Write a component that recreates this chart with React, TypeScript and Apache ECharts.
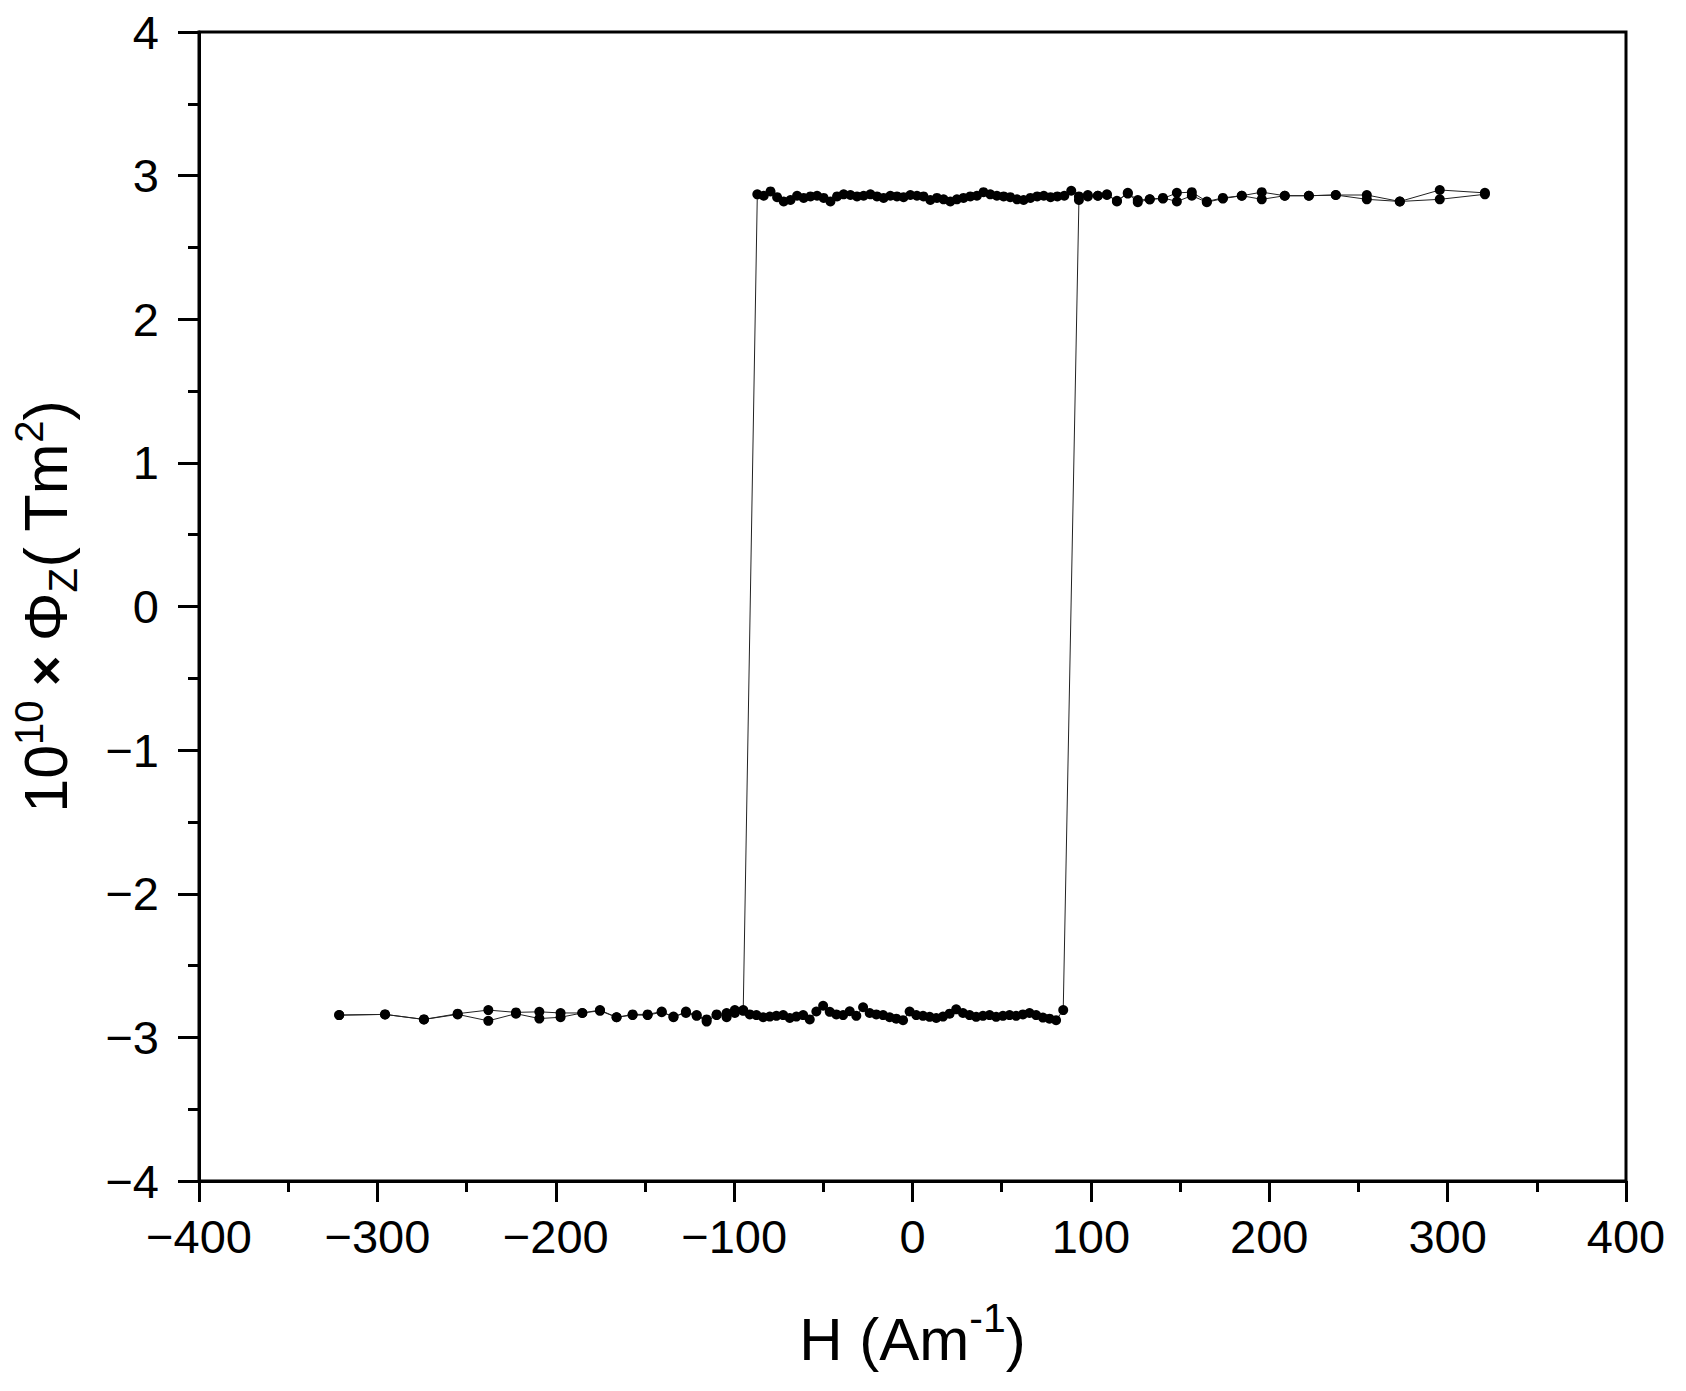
import React, { useEffect, useRef } from "react";
import * as echarts from "echarts";

// Sweep 1: decreasing H, upper branch
const topDecH = [320.9, 295.6, 273.2, 254.7, 237.3, 222.2, 208.7, 195.8, 184.6, 174.0,
  165.0, 156.6, 148.2, 140.4, 133.0, 126.3, 120.7, 114.6, 109.0, 103.9,
  98.3, 93.3, 89.0, 85.1, 81.2, 77.4, 73.6, 69.9, 66.1, 62.3,
  58.6, 54.8, 51.1, 47.3, 43.6, 39.8, 36.1, 32.4, 28.6, 24.9,
  21.2, 17.4, 13.7, 10.0, 6.2, 2.5, -1.2, -5.0, -8.7, -12.4,
  -16.2, -19.9, -23.6, -27.4, -31.1, -34.8, -38.6, -42.3, -46.0, -49.8,
  -53.5, -57.2, -61.0, -64.7, -68.4, -72.2, -75.9, -79.6, -83.4, -87.0];
const topDecY = [2.88, 2.90, 2.82, 2.865, 2.865, 2.86, 2.86, 2.885, 2.86, 2.845,
  2.82, 2.885, 2.88, 2.84, 2.835, 2.83, 2.88, 2.82, 2.87, 2.86,
  2.855, 2.855, 2.895, 2.86, 2.855, 2.85, 2.86, 2.855, 2.845, 2.83,
  2.835, 2.85, 2.855, 2.86, 2.87, 2.885, 2.86, 2.855, 2.845, 2.835,
  2.82, 2.835, 2.845, 2.83, 2.855, 2.86, 2.865, 2.85, 2.855, 2.86,
  2.845, 2.855, 2.87, 2.86, 2.855, 2.865, 2.87, 2.855, 2.82, 2.845,
  2.86, 2.855, 2.845, 2.86, 2.83, 2.82, 2.85, 2.89, 2.86, 2.87];

// Sweep 1 continued: decreasing H, lower branch
const botDecH = [-94.9, -99.6, -104.2, -109.8, -115.4, -121.0, -127.0, -134.0, -140.6, -148.5,
  -156.9, -165.9, -175.2, -185.1, -197.3, -209.2, -222.3, -237.8, -255.0, -273.9, -295.7, -321.4];
const botDecY = [-2.81, -2.81, -2.83, -2.845, -2.89, -2.845, -2.82, -2.86, -2.82, -2.84,
  -2.84, -2.86, -2.81, -2.83, -2.83, -2.822, -2.826, -2.81, -2.835, -2.875, -2.84, -2.845];

// Sweep 2: increasing H, lower branch
const botIncH = [-321.4, -295.7, -273.9, -255.0, -237.8, -222.3, -209.2, -197.3, -185.1, -175.2,
  -165.9, -156.9, -148.5, -140.6, -134.0, -127.0, -121.0, -115.4, -109.8, -104.2, -99.6, -94.9,
  -91.2, -87.5, -83.7, -80.0, -76.3, -72.5, -68.8, -65.1, -61.3, -57.6,
  -53.9, -50.1, -46.4, -42.7, -38.9, -35.2, -31.5, -27.7, -24.0, -20.3,
  -16.5, -12.8, -9.1, -5.3, -1.6, 2.1, 5.9, 9.6, 13.3, 17.1,
  20.8, 24.5, 28.3, 32.0, 35.7, 39.5, 43.2, 46.9, 50.7, 54.4,
  58.1, 61.9, 65.6, 69.3, 73.1, 76.8, 80.5, 84.5];
const botIncY = [-2.845, -2.84, -2.875, -2.84, -2.885, -2.835, -2.869, -2.86, -2.83, -2.815,
  -2.86, -2.845, -2.845, -2.825, -2.855, -2.83, -2.85, -2.875, -2.84, -2.86, -2.83, -2.815,
  -2.84, -2.845, -2.86, -2.855, -2.85, -2.845, -2.865, -2.855, -2.845, -2.875,
  -2.82, -2.78, -2.822, -2.84, -2.845, -2.818, -2.85, -2.79, -2.83, -2.84,
  -2.845, -2.86, -2.87, -2.88, -2.82, -2.845, -2.85, -2.857, -2.865, -2.855,
  -2.835, -2.805, -2.83, -2.845, -2.857, -2.85, -2.845, -2.857, -2.85, -2.845,
  -2.85, -2.84, -2.83, -2.845, -2.862, -2.87, -2.88, -2.81];

// Sweep 2 continued: increasing H, upper branch
const topIncH = [93.3, 98.3, 103.9, 109.0, 114.6, 120.7, 126.3, 133.0, 140.4, 148.2,
  156.6, 165.0, 174.0, 184.6, 195.8, 208.7, 222.2, 237.3, 254.7, 273.2, 295.6, 320.9];
const topIncY = [2.83, 2.865, 2.86, 2.865, 2.825, 2.875, 2.815, 2.835, 2.845, 2.82,
  2.86, 2.815, 2.84, 2.86, 2.835, 2.86, 2.86, 2.865, 2.835, 2.82, 2.835, 2.87];

const xTicks = { min: -400, max: 400, step: 100 };
const yTicks = { min: -4, max: 4, step: 1 };

const FONT = "Liberation Sans, Arial, Helvetica, sans-serif";

function pairs(h: number[], y: number[]) {
  return h.map((v, i) => [v, y[i]]);
}

const fmt = (v: number) => (v < 0 ? "\u2212" + Math.abs(v) : String(v));

export default function App() {
  const ref = useRef<HTMLDivElement>(null);
  useEffect(() => {
    if (!ref.current) return;
    const chart = echarts.init(ref.current, null, { renderer: "svg" });
    const data = [
      ...pairs(topDecH, topDecY),
      ...pairs(botDecH, botDecY),
      ...pairs(botIncH, botIncY),
      ...pairs(topIncH, topIncY),
    ];
    chart.setOption({
      animation: false,
      backgroundColor: "#ffffff",
      grid: {
        left: 199,
        top: 32,
        right: 60,
        bottom: 210,
        show: true,
        borderColor: "#000",
        borderWidth: 3,
        backgroundColor: "transparent",
      },
      xAxis: {
        type: "value",
        min: xTicks.min,
        max: xTicks.max,
        interval: xTicks.step,
        name: "{n|H (Am}{sup|-1}{n|)}",
        nameLocation: "middle",
        nameGap: 116,
        nameTextStyle: {
          rich: {
            n: { fontSize: 60, fontFamily: FONT, color: "#000", lineHeight: 72, verticalAlign: "bottom" },
            sup: { fontSize: 41, fontFamily: FONT, color: "#000", lineHeight: 40, verticalAlign: "top" },
          },
        },
        axisLine: { show: true, onZero: false, lineStyle: { color: "#000", width: 3 } },
        axisTick: { show: true, inside: false, length: 21, lineStyle: { color: "#000", width: 3 } },
        minorTick: { show: true, splitNumber: 2, length: 11, lineStyle: { color: "#000", width: 3 } },
        splitLine: { show: false },
        axisLabel: {
          fontSize: 47,
          fontFamily: FONT,
          color: "#000",
          margin: 32,
          formatter: fmt,
        },
      },
      yAxis: {
        type: "value",
        min: yTicks.min,
        max: yTicks.max,
        interval: yTicks.step,
        name: "{n|10}{sup|10}{b| × }{n|Φ}{sub|Z}{n|( Tm}{sup|2}{n|)}",
        nameLocation: "middle",
        nameGap: 116,
        nameTextStyle: {
          rich: {
            n: { fontSize: 61, fontFamily: FONT, color: "#000", lineHeight: 74, verticalAlign: "middle" },
            b: { fontSize: 52, fontFamily: FONT, fontWeight: "bold", color: "#000", lineHeight: 74, verticalAlign: "middle" },
            sup: { fontSize: 40, fontFamily: FONT, color: "#000", lineHeight: 40, verticalAlign: "top" },
            sub: { fontSize: 40, fontFamily: FONT, color: "#000", lineHeight: 40, verticalAlign: "bottom" },
          },
        },
        axisLine: { show: true, onZero: false, lineStyle: { color: "#000", width: 3 } },
        axisTick: { show: true, inside: false, length: 21, lineStyle: { color: "#000", width: 3 } },
        minorTick: { show: true, splitNumber: 2, length: 11, lineStyle: { color: "#000", width: 3 } },
        splitLine: { show: false },
        axisLabel: {
          fontSize: 47,
          fontFamily: FONT,
          color: "#000",
          margin: 40,
          formatter: fmt,
        },
      },
      series: [
        {
          type: "line",
          data,
          symbol: "circle",
          symbolSize: 10,
          showAllSymbol: true,
          itemStyle: { color: "#000" },
          lineStyle: { color: "#222", width: 1 },
          z: 3,
        },
      ],
    });
    return () => chart.dispose();
  }, []);
  return (
    <div
      ref={ref}
      style={{ position: "fixed", left: 0, top: 0, width: 1686, height: 1391, background: "#fff" }}
    />
  );
}
